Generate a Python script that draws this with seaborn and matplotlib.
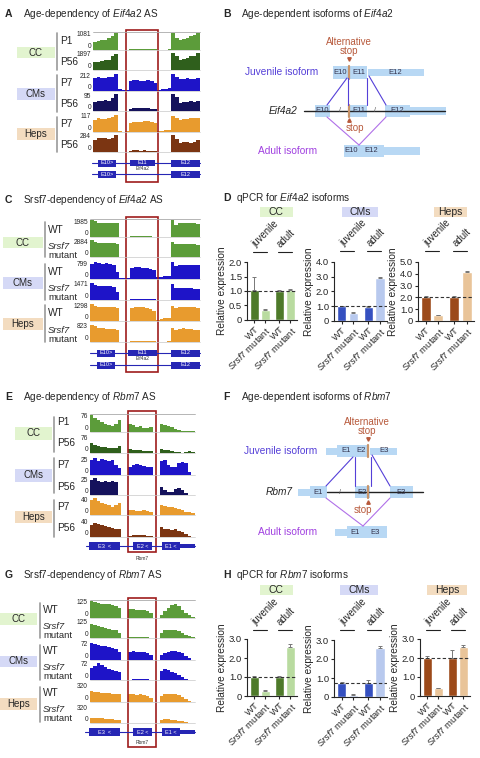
import numpy as np
import pandas as pd
import matplotlib
matplotlib.use("Agg")
import matplotlib.pyplot as plt
from matplotlib.patches import Rectangle
import seaborn as sns

sns.set_style("ticks")
plt.rcParams["font.family"] = ["Liberation Sans", "DejaVu Sans"]
plt.rcParams["mathtext.fontset"] = "custom"
plt.rcParams["mathtext.it"] = "Liberation Sans:italic"
plt.rcParams["mathtext.rm"] = "Liberation Sans"

W, H = 481, 758

# ---------------- data ----------------
cell_types = ["CC", "CMs", "Heps"]
age_rows = ["P1", "P56", "P7", "P56", "P7", "P56"]

# read-coverage scale maxima (left of each track)
eif_age_max = [1081, 1897, 212, 95, 117, 284]
eif_srsf_max = [1985, 2884, 799, 1471, 1298, 823]
rbm_age_max = [76, 76, 25, 25, 40, 40]
rbm_srsf_max = [125, 125, 72, 72, 320, 320]

# coverage profiles, relative to track max (30 bins across the locus)
eif_age_cc_p1 = [0.5, 0.55, 0.6, 0.6, 0.7, 0.85, 1.0, 0, 0, 0, 0.05, 0.06, 0.06, 0.05, 0.06, 0.05, 0.05, 0.04, 0, 0, 0, 0.05, 1.0, 0.7, 0.6, 0.65, 0.7, 0.8, 0.9, 1.0]
eif_age_cc_p56 = [0.45, 0.5, 0.55, 0.6, 0.6, 0.8, 0.95, 0, 0, 0, 0, 0, 0, 0, 0, 0, 0, 0, 0, 0, 0, 0, 1.0, 0.8, 0.6, 0.65, 0.7, 0.8, 0.85, 1.0]
eif_age_cms_p7 = [0.75, 0.8, 0.75, 0.75, 0.8, 0.85, 1.0, 0.1, 0.05, 0.05, 0.6, 0.65, 0.65, 0.6, 0.6, 0.65, 0.6, 0.5, 0.05, 0.1, 0.1, 0.15, 1.0, 0.85, 0.7, 0.7, 0.75, 0.7, 0.7, 0.75]
eif_age_cms_p56 = [0.55, 0.6, 0.6, 0.65, 0.6, 0.75, 1.0, 0, 0, 0, 0.1, 0.15, 0.15, 0.15, 0.15, 0.15, 0.12, 0.1, 0, 0, 0, 0, 1.0, 0.8, 0.5, 0.55, 0.55, 0.6, 0.55, 0.6]
eif_age_heps_p7 = [0.7, 0.8, 0.75, 0.75, 0.8, 0.9, 1.0, 0.05, 0.02, 0.05, 0.55, 0.6, 0.6, 0.6, 0.65, 0.65, 0.6, 0.55, 0.05, 0.05, 0.1, 0.1, 0.95, 0.8, 0.7, 0.75, 0.75, 0.8, 0.8, 0.85]
eif_age_heps_p56 = [0.7, 0.85, 0.8, 0.8, 0.75, 0.85, 1.0, 0, 0, 0, 0.08, 0.1, 0.1, 0.08, 0.1, 0.08, 0.08, 0.05, 0, 0, 0, 0, 1.0, 0.75, 0.55, 0.6, 0.6, 0.55, 0.6, 0.7]

eif_srsf_cc_wt = [1.0, 0.95, 0.85, 0.85, 0.85, 0.85, 0.85, 0.8, 0, 0, 0, 0.03, 0.05, 0.05, 0.05, 0.05, 0.03, 0, 0, 0, 0, 0, 1.0, 0.7, 0.8, 0.8, 0.8, 0.8, 0.8, 0.75]
eif_srsf_cc_mut = [1.0, 0.9, 0.85, 0.8, 0.8, 0.8, 0.8, 0.75, 0, 0, 0, 0, 0, 0, 0, 0, 0, 0, 0, 0, 0, 0, 0.9, 0.75, 0.75, 0.75, 0.75, 0.75, 0.75, 0.7]
eif_srsf_cms_wt = [0.9, 1.0, 0.95, 0.9, 0.95, 0.9, 0.85, 0.4, 0.05, 0.05, 0.05, 0.65, 0.7, 0.7, 0.65, 0.65, 0.6, 0.55, 0.1, 0.1, 0.15, 0.2, 1.0, 0.75, 0.85, 0.85, 0.85, 0.85, 0.8, 0.8]
eif_srsf_cms_mut = [1.0, 0.9, 0.8, 0.8, 0.8, 0.8, 0.75, 0.5, 0, 0, 0, 0.05, 0.08, 0.08, 0.05, 0.05, 0.05, 0.03, 0, 0, 0, 0, 0.95, 0.7, 0.7, 0.7, 0.7, 0.7, 0.65, 0.65]
eif_srsf_heps_wt = [1.0, 0.9, 0.8, 0.8, 0.8, 0.8, 0.8, 0.75, 0, 0, 0, 0.75, 0.8, 0.85, 0.8, 0.75, 0.7, 0.6, 0.05, 0.1, 0.15, 0.2, 0.9, 0.75, 0.85, 0.85, 0.8, 0.8, 0.8, 0.75]
eif_srsf_heps_mut = [1.0, 0.95, 0.8, 0.8, 0.75, 0.75, 0.75, 0.7, 0, 0, 0, 0.05, 0.05, 0.05, 0.05, 0.05, 0.05, 0.03, 0, 0, 0, 0.05, 0.85, 0.7, 0.75, 0.8, 0.75, 0.75, 0.7, 0.7]

rbm_age_cc_p1 = [1.0, 0.85, 0.7, 0.6, 0.5, 0.4, 0.35, 0.45, 0.7, 0, 0, 0.45, 0.4, 0.3, 0.35, 0.25, 0.25, 0.3, 0, 0, 0.45, 0.4, 0.35, 0.3, 0.2, 0.1, 0.05, 0.05, 0.05, 0.05]
rbm_age_cc_p56 = [0.6, 0.5, 0.4, 0.35, 0.35, 0.3, 0.3, 0.3, 0.4, 0, 0, 0.25, 0.2, 0.15, 0.15, 0.1, 0.1, 0.1, 0, 0, 0.25, 0.2, 0.15, 0.1, 0.05, 0.05, 0.02, 0.05, 0.1, 0.05]
rbm_age_cms_p7 = [0.9, 1.0, 0.85, 0.95, 0.9, 0.85, 0.9, 0.6, 0.4, 0, 0, 0.5, 0.6, 0.65, 0.6, 0.55, 0.5, 0.5, 0, 0, 0.8, 0.9, 0.6, 0.45, 0.5, 0.7, 0.75, 0.7, 0.2, 0]
rbm_age_cms_p56 = [0.9, 1.0, 0.8, 0.75, 0.8, 0.75, 0.8, 0.75, 0, 0, 0, 0, 0, 0, 0, 0, 0, 0, 0, 0, 0.5, 0.3, 0.2, 0.2, 0.35, 0.4, 0.3, 0.1, 0, 0]
rbm_age_heps_p7 = [0.9, 1.0, 0.8, 0.7, 0.65, 0.6, 0.5, 0.6, 0.7, 0, 0, 0.3, 0.3, 0.25, 0.25, 0.3, 0.25, 0.2, 0, 0, 0.6, 0.55, 0.5, 0.45, 0.4, 0.35, 0.3, 0.2, 0.15, 0.1]
rbm_age_heps_p56 = [0.7, 0.8, 0.75, 0.7, 0.65, 0.6, 0.55, 0.5, 0.45, 0, 0, 0.05, 0.1, 0.1, 0.1, 0.1, 0.05, 0.05, 0, 0, 0.6, 0.5, 0.45, 0.4, 0.45, 0.35, 0.3, 0.15, 0.05, 0]

rbm_srsf_cc_wt = [1.0, 0.95, 0.9, 0.85, 0.8, 0.8, 0.75, 0.7, 0.6, 0, 0, 0.55, 0.55, 0.5, 0.5, 0.45, 0.4, 0.3, 0, 0, 0.2, 0.4, 0.6, 0.75, 0.8, 0.7, 0.5, 0.3, 0.15, 0.05]
rbm_srsf_cc_mut = [0.85, 0.75, 0.7, 0.65, 0.6, 0.55, 0.5, 0.45, 0.3, 0, 0, 0.05, 0.08, 0.08, 0.05, 0.05, 0.03, 0, 0, 0, 0.3, 0.45, 0.5, 0.5, 0.45, 0.4, 0.3, 0.2, 0.1, 0.05]
rbm_srsf_cms_wt = [1.0, 0.95, 0.9, 0.85, 0.8, 0.75, 0.7, 0.65, 0.5, 0, 0, 0.5, 0.55, 0.5, 0.5, 0.45, 0.4, 0.3, 0, 0, 0.3, 0.4, 0.5, 0.55, 0.55, 0.5, 0.4, 0.25, 0.1, 0]
rbm_srsf_cms_mut = [0.7, 0.85, 1.0, 0.9, 0.75, 0.65, 0.6, 0.55, 0.45, 0, 0, 0, 0.03, 0.05, 0.05, 0.05, 0.05, 0, 0, 0, 0.55, 0.65, 0.6, 0.5, 0.4, 0.3, 0.15, 0.05, 0, 0]
rbm_srsf_heps_wt = [0.65, 0.6, 0.6, 0.55, 0.55, 0.55, 0.5, 0.5, 0.5, 0, 0, 0.45, 0.45, 0.4, 0.45, 0.4, 0.35, 0.25, 0, 0, 0.35, 0.45, 0.5, 0.5, 0.45, 0.4, 0.3, 0.15, 0.05, 0]
rbm_srsf_heps_mut = [0.3, 0.3, 0.3, 0.3, 0.25, 0.25, 0.25, 0.2, 0.2, 0, 0, 0, 0, 0.02, 0.02, 0.02, 0, 0, 0, 0, 0.2, 0.25, 0.25, 0.2, 0.15, 0.1, 0.1, 0.05, 0, 0]

# qPCR (relative expression): WT juv, Srsf7 mut juv, WT adult, Srsf7 mut adult
bar_samples = ["WT juvenile", "Srsf7 mutant juvenile", "WT adult", "Srsf7 mutant adult"]
bar_pos = [0, 1, 2.3, 3.3]
bar_ticklabels = ["WT", r"$\mathit{Srsf7}$ mutant", "WT", r"$\mathit{Srsf7}$ mutant"]

eif_cc = [1.05, 0.35, 1.0, 1.02]
eif_cc_err = [0.42, 0.04, 0.02, 0.06]
eif_cms = [1.0, 0.55, 0.95, 2.9]
eif_cms_err = [0.05, 0.04, 0.04, 0.05]
eif_heps = [2.0, 0.5, 2.05, 4.15]
eif_heps_err = [0.15, 0.05, 0.05, 0.08]
rbm_cc = [1.0, 0.25, 1.0, 2.6]
rbm_cc_err = [0.03, 0.04, 0.03, 0.15]
rbm_cms = [0.75, 0.12, 0.75, 2.6]
rbm_cms_err = [0.05, 0.02, 0.12, 0.08]
rbm_heps = [2.0, 0.4, 2.0, 2.6]
rbm_heps_err = [0.1, 0.03, 0.42, 0.1]

# ---------------- colours ----------------
box_fill = {"CC": "#e2f4cf", "CMs": "#d5d9f6", "Heps": "#f3dcc0"}
age_cols = ["#5c9c3a", "#2f5f1c", "#1e14c8", "#15125c", "#e89b2e", "#7b3512"]
srsf_cols = ["#5c9c3a", "#5c9c3a", "#1e14c8", "#1e14c8", "#e89b2e", "#e89b2e"]
bar_cols = {"CC": ["#4e7a2a", "#b9dba0", "#4e7a2a", "#b9dba0"],
            "CMs": ["#3550c0", "#b8c9ee", "#3550c0", "#b8c9ee"],
            "Heps": ["#9c4a1a", "#e9c499", "#9c4a1a", "#e9c499"]}
gene_blue = "#2626b4"
exon_blue = "#b8d8f4"
red_box = "#9e1c1c"
stop_col = "#b85a3c"
juv_col = "#5540d8"
adult_col = "#a040e0"

fig = plt.figure(figsize=(W / 100, H / 100), dpi=100)
ax0 = fig.add_axes([0, 0, 1, 1])
ax0.set_xlim(0, W)
ax0.set_ylim(H, 0)
ax0.axis("off")


def panel_title(x, y, letter, text):
    ax0.text(x, y, letter, fontsize=7.5, fontweight="bold", va="center")
    ax0.text(x + 18, y, text, fontsize=7.2, va="center")


def draw_track(x0, x1, base, vals, color, h=17):
    v = np.asarray(vals, float)
    edges = np.linspace(x0, x1, len(v) + 1)
    top = base - h * np.append(v, v[-1])
    ax0.fill_between(edges, base, top, step="post", color=color, lw=0)
    ax0.plot([x0, x1], [base, base], color="#c8c8c8", lw=0.5)


def coverage(x0, x1, bases, profiles, colors, maxima):
    ax0.plot([x0, x1], [bases[0] - 18] * 2, color="#aaaaaa", lw=0.6)
    for base, vals, col, mx in zip(bases, profiles, colors, maxima):
        draw_track(x0, x1, base, vals, col)
        ax0.text(x0 - 2, base - 15, str(mx), fontsize=4.8, ha="right", va="center")
        ax0.text(x0 - 2, base - 3.5, "0", fontsize=4.8, ha="right", va="center")


def group_labels(box_x, line_x, text_x, boxes, lines, rows):
    for ct, (y0, y1) in zip(cell_types, boxes):
        ax0.add_patch(Rectangle((box_x[0], y0), box_x[1] - box_x[0], y1 - y0, color=box_fill[ct], lw=0))
        ax0.text((box_x[0] + box_x[1]) / 2, (y0 + y1) / 2, ct, fontsize=7, ha="center", va="center")
    for (y0, y1) in lines:
        ax0.plot([line_x, line_x], [y0, y1], color="#999999", lw=1.2)
    for y, lab in rows:
        if lab == "mut":
            ax0.text(text_x, y - 4.6, "Srsf7", fontsize=6.8, fontstyle="italic", va="center")
            ax0.text(text_x, y + 4.6, "mutant", fontsize=6.8, va="center")
        else:
            ax0.text(text_x, y, lab, fontsize=7.3, va="center")


def gene_row(y, xa, xb, exons, name=None):
    ax0.plot([xa, xb], [y, y], color=gene_blue, lw=0.8)
    for ex0, ex1, hh, lab in exons:
        ax0.add_patch(Rectangle((ex0, y - hh / 2), ex1 - ex0, hh, color=gene_blue, lw=0))
        if lab:
            ax0.text((ex0 + ex1) / 2, y, lab, color="white", fontsize=4, ha="center", va="center")
    if name:
        ax0.text(name[0], name[1], name[2], fontsize=3.5, ha="center", va="center", color="#333333")


def red_frame(x0, x1, y0, y1):
    ax0.add_patch(Rectangle((x0, y0), x1 - x0, y1 - y0, fill=False, ec=red_box, lw=1.2))


def ebox(x0, x1, y, hh, lab=None):
    ax0.add_patch(Rectangle((x0, y - hh / 2), x1 - x0, hh, color=exon_blue, lw=0))
    if lab:
        ax0.text((x0 + x1) / 2, y, lab, fontsize=5.5, ha="center", va="center", color="#33334d")


def stop_bar(x, y, hh=13):
    ax0.plot([x, x], [y - hh / 2, y + hh / 2], color="#c8946a", lw=1.6)


# ---------------- A: Eif4a2 age ----------------
panel_title(5, 14, "A", r"Age-dependency of $\mathit{Eif4a2}$ AS")
bases_a = [50, 70, 91, 111, 132, 152]
coverage(93, 200, bases_a,
         [eif_age_cc_p1, eif_age_cc_p56, eif_age_cms_p7, eif_age_cms_p56, eif_age_heps_p7, eif_age_heps_p56],
         age_cols, eif_age_max)
group_labels((17, 55), 57, 60, [(47, 58), (88, 100), (128, 140)],
             [(33, 70), (75, 112), (117, 152)],
             list(zip([41, 62, 83, 104, 124, 145], age_rows)))
gene_row(163, 92, 200, [(98, 116, 7, "E10>"), (130, 155, 6, "E11"), (171, 200, 7, "E12")], (143, 169, "Eif4a2"))
gene_row(174, 92, 200, [(98, 116, 7, "E10>"), (171, 200, 7, "E12")])
red_frame(126, 158, 30, 182)

# ---------------- C: Eif4a2 Srsf7 ----------------
panel_title(5, 200, "C", r"Srsf7-dependency of $\mathit{Eif4a2}$ AS")
bases_c = [237, 257, 279, 300, 321, 342]
coverage(90, 200, bases_c,
         [eif_srsf_cc_wt, eif_srsf_cc_mut, eif_srsf_cms_wt, eif_srsf_cms_mut, eif_srsf_heps_wt, eif_srsf_heps_mut],
         srsf_cols, eif_srsf_max)
group_labels((3, 43), 45, 48, [(237, 248), (277, 289), (318, 330)],
             [(222, 257), (264, 300), (305, 342)],
             [(230, "WT"), (251, "mut"), (272, "WT"), (293, "mut"), (313, "WT"), (335, "mut")])
gene_row(353, 90, 200, [(97, 115, 7, "E10>"), (128, 157, 6, "E11"), (171, 200, 7, "E12")], (143, 359, "Eif4a2"))
gene_row(365, 90, 200, [(97, 115, 7, "E10>"), (171, 200, 7, "E12")])
red_frame(126, 158, 217, 372)

# ---------------- E: Rbm7 age ----------------
panel_title(5, 397, "E", r"Age-dependency of $\mathit{Rbm7}$ AS")
bases_e = [432, 453, 475, 495, 515, 537]
coverage(90, 195, bases_e,
         [rbm_age_cc_p1, rbm_age_cc_p56, rbm_age_cms_p7, rbm_age_cms_p56, rbm_age_heps_p7, rbm_age_heps_p56],
         age_cols, rbm_age_max)
group_labels((15, 52), 54, 57, [(427, 440), (469, 482), (511, 523)],
             [(417, 452), (458, 493), (500, 537)],
             list(zip([422, 443, 465, 487, 507, 528], age_rows)))
gene_row(546, 86, 195, [(89, 120, 8, "E3  <"), (133, 152, 8, "E2 <"), (162, 180, 8, "E1 <"), (180, 195, 4, None)], (142, 558, "Rbm7"))
red_frame(128, 156, 411, 552)

# ---------------- G: Rbm7 Srsf7 ----------------
panel_title(5, 575, "G", r"Srsf7-dependency of $\mathit{Rbm7}$ AS")
bases_g = [618, 638, 660, 680, 702, 723]
coverage(90, 195, bases_g,
         [rbm_srsf_cc_wt, rbm_srsf_cc_mut, rbm_srsf_cms_wt, rbm_srsf_cms_mut, rbm_srsf_heps_wt, rbm_srsf_heps_mut],
         srsf_cols, rbm_srsf_max)
group_labels((0, 37), 40, 43, [(613, 625), (656, 667), (698, 710)],
             [(603, 638), (645, 680), (687, 722)],
             [(610, "WT"), (631, "mut"), (651, "WT"), (672, "mut"), (693, "WT"), (714, "mut")])
gene_row(732, 85, 195, [(89, 120, 8, "E3  <"), (133, 152, 8, "E2 <"), (162, 180, 8, "E1 <"), (180, 195, 4, None)], (142, 742, "Rbm7"))
red_frame(128, 156, 598, 747)

# ---------------- B: Eif4a2 isoforms ----------------
panel_title(223, 14, "B", r"Age-dependent isoforms of $\mathit{Eif4a2}$")
ax0.text(349, 42, "Alternative", fontsize=7, color=stop_col, ha="center", va="center")
ax0.text(349, 51, "stop", fontsize=7, color=stop_col, ha="center", va="center")
ax0.plot([349], [58.5], marker="v", ms=2.5, color=stop_col)
ax0.text(245, 72, "Juvenile isoform", fontsize=7.3, color=juv_col, va="center")
ebox(368, 424, 72, 7)
ebox(333, 348, 72, 13, "E10")
ebox(350, 367, 72, 13, "E11")
ax0.text(395, 72, "E12", fontsize=5.5, ha="center", va="center", color="#33334d")
stop_bar(349, 72)
ax0.text(297, 111, "Eif4a2", fontsize=7.3, fontstyle="italic", ha="right", va="center")
ax0.plot([304, 445], [111, 111], color="#222222", lw=1)
ebox(315, 330, 111, 12, "E10")
ebox(350, 367, 111, 12, "E11")
ebox(385, 410, 111, 12, "E12")
ebox(410, 446, 111, 8)
stop_bar(349, 111, 12)
for sx in (340, 375):
    ax0.text(sx, 111, "/", fontsize=5, ha="center", va="center", color="#555555")
ax0.text(355, 128, "stop", fontsize=7, color=stop_col, ha="center", va="center")
ax0.plot([349], [120], marker="^", ms=2.5, color=stop_col)
ax0.text(258, 151, "Adult isoform", fontsize=7.3, color=adult_col, va="center")
ebox(384, 420, 151, 8)
ebox(344, 359, 151, 12, "E10")
ebox(359, 384, 151, 12, "E12")
for (xa, ya, xb, yb) in [(347, 78, 327, 105), (348, 78, 348, 105), (367, 78, 367, 105), (369, 76, 386, 105)]:
    ax0.plot([xa, xb], [ya, yb], color=juv_col, lw=0.8)
for (xa, ya, xb, yb) in [(327, 117, 359, 145), (386, 117, 359, 145)]:
    ax0.plot([xa, xb], [ya, yb], color="#b070e8", lw=0.8)

# ---------------- F: Rbm7 isoforms ----------------
panel_title(223, 397, "F", r"Age-dependent isoforms of $\mathit{Rbm7}$")
ax0.text(367, 422, "Alternative", fontsize=7, color=stop_col, ha="center", va="center")
ax0.text(367, 431, "stop", fontsize=7, color=stop_col, ha="center", va="center")
ax0.plot([368], [438.5], marker="v", ms=2.5, color=stop_col)
ax0.text(244, 451, "Juvenile isoform", fontsize=7.3, color=juv_col, va="center")
ebox(326, 337, 451, 7)
ebox(370, 397, 451, 7)
ebox(337, 355, 451, 12, "E1")
ebox(355, 368, 451, 12, "E2")
ax0.text(384, 451, "E3", fontsize=5.5, ha="center", va="center", color="#33334d")
stop_bar(368, 451, 12)
ax0.text(293, 492, "Rbm7", fontsize=7.3, fontstyle="italic", ha="right", va="center")
ax0.plot([327, 423], [492, 492], color="#222222", lw=1)
ebox(298, 310, 492, 7)
ebox(310, 327, 492, 12, "E1")
ebox(355, 370, 492, 12, "E2")
ebox(390, 413, 492, 12, "E3")
stop_bar(368, 492, 12)
ax0.text(340, 492, "/", fontsize=5, ha="center", va="center", color="#555555")
ax0.text(363, 510, "stop", fontsize=7, color=stop_col, ha="center", va="center")
ax0.plot([368], [502], marker="^", ms=2.5, color=stop_col)
ax0.text(258, 532, "Adult isoform", fontsize=7.3, color=adult_col, va="center")
ebox(335, 347, 532, 7)
ebox(347, 363, 532, 12, "E1")
ebox(363, 387, 532, 12, "E3")
for (xa, ya, xb, yb) in [(353, 457, 326, 486), (355, 457, 355, 486), (371, 457, 371, 486), (372, 455, 390, 486)]:
    ax0.plot([xa, xb], [ya, yb], color=juv_col, lw=0.8)
for (xa, ya, xb, yb) in [(326, 498, 363, 526), (390, 498, 363, 526)]:
    ax0.plot([xa, xb], [ya, yb], color="#b070e8", lw=0.8)


# ---------------- D / H: qPCR bars ----------------
XMIN, XMAX = -0.65, 3.9


def qpcr(rect, ct, vals, errs, ref, ymax, step, hbox, hy, uy):
    l, t, r, b = rect
    ax = fig.add_axes([l / W, 1 - b / H, (r - l) / W, (b - t) / H])
    ax.patch.set_alpha(0)
    df = pd.DataFrame({"pos": bar_pos, "value": vals, "sample": bar_samples})
    sns.barplot(data=df, x="pos", y="value", hue="sample", palette=bar_cols[ct],
                native_scale=True, dodge=False, width=0.8, saturation=1,
                errorbar=None, legend=False, ax=ax)
    ax.errorbar(bar_pos, vals, yerr=[np.zeros(len(vals)), errs], fmt="none",
                ecolor="#777777", elinewidth=0.7, capsize=1.2, capthick=0.7)
    ax.axhline(ref, ls=(0, (3, 2)), color="#333333", lw=0.8)
    ax.set_xlim(XMIN, XMAX)
    ax.set_ylim(0, ymax)
    ticks = np.arange(0, ymax + 1e-9, step)
    ax.set_yticks(ticks)
    ax.set_yticklabels(["0" if v == 0 else f"{v:.1f}" for v in ticks])
    ax.set_xticks(bar_pos)
    ax.set_xticklabels(bar_ticklabels, rotation=45, ha="right", rotation_mode="anchor")
    ax.set_xlabel("")
    ax.set_ylabel("Relative expression", fontsize=7.3, labelpad=1)
    ax.tick_params(labelsize=6.8, length=2, width=0.8, pad=1.5)
    sns.despine(ax=ax)
    for s in ("left", "bottom"):
        ax.spines[s].set_linewidth(0.8)
    # header box
    ax0.add_patch(Rectangle((hbox[0], hy), hbox[1] - hbox[0], 10, color=box_fill[ct], lw=0))
    ax0.text((hbox[0] + hbox[1]) / 2, hy + 5, ct, fontsize=7.5, ha="center", va="center")
    # isoform labels
    for xd, lab in [(0.5, "juvenile"), (2.8, "adult")]:
        cx = l + (xd - XMIN) / (XMAX - XMIN) * (r - l)
        ax0.plot([cx - 7, cx + 7], [uy, uy], color="#222222", lw=0.8)
        ax0.text(cx - 4, uy - 4, lab, fontsize=7, rotation=45, ha="left", va="baseline",
                 rotation_mode="anchor")


ax0.text(223, 198, "D", fontsize=7.5, fontweight="bold", va="center")
ax0.text(236, 198, r"qPCR for $\mathit{Eif4a2}$ isoforms", fontsize=7.2, va="center")
qpcr((247, 262, 297, 320), "CC", eif_cc, eif_cc_err, 1.0, 2.0, 0.5, (260, 293), 207, 252)
qpcr((334, 262, 387, 321), "CMs", eif_cms, eif_cms_err, 1.0, 4.0, 1.0, (342, 378), 207, 251)
qpcr((418, 262, 474, 321), "Heps", eif_heps, eif_heps_err, 2.0, 5.0, 1.0, (434, 467), 207, 251)

ax0.text(223, 575, "H", fontsize=7.5, fontweight="bold", va="center")
ax0.text(236, 575, r"qPCR for $\mathit{Rbm7}$ isoforms", fontsize=7.2, va="center")
qpcr((247, 639, 297, 696), "CC", rbm_cc, rbm_cc_err, 1.0, 3.0, 1.0, (260, 293), 585, 630)
qpcr((334, 640, 387, 697), "CMs", rbm_cms, rbm_cms_err, 0.75, 3.0, 1.0, (340, 378), 585, 630)
qpcr((420, 639, 470, 696), "Heps", rbm_heps, rbm_heps_err, 2.0, 3.0, 1.0, (427, 467), 585, 630)

fig.savefig("out.png", dpi=100)
